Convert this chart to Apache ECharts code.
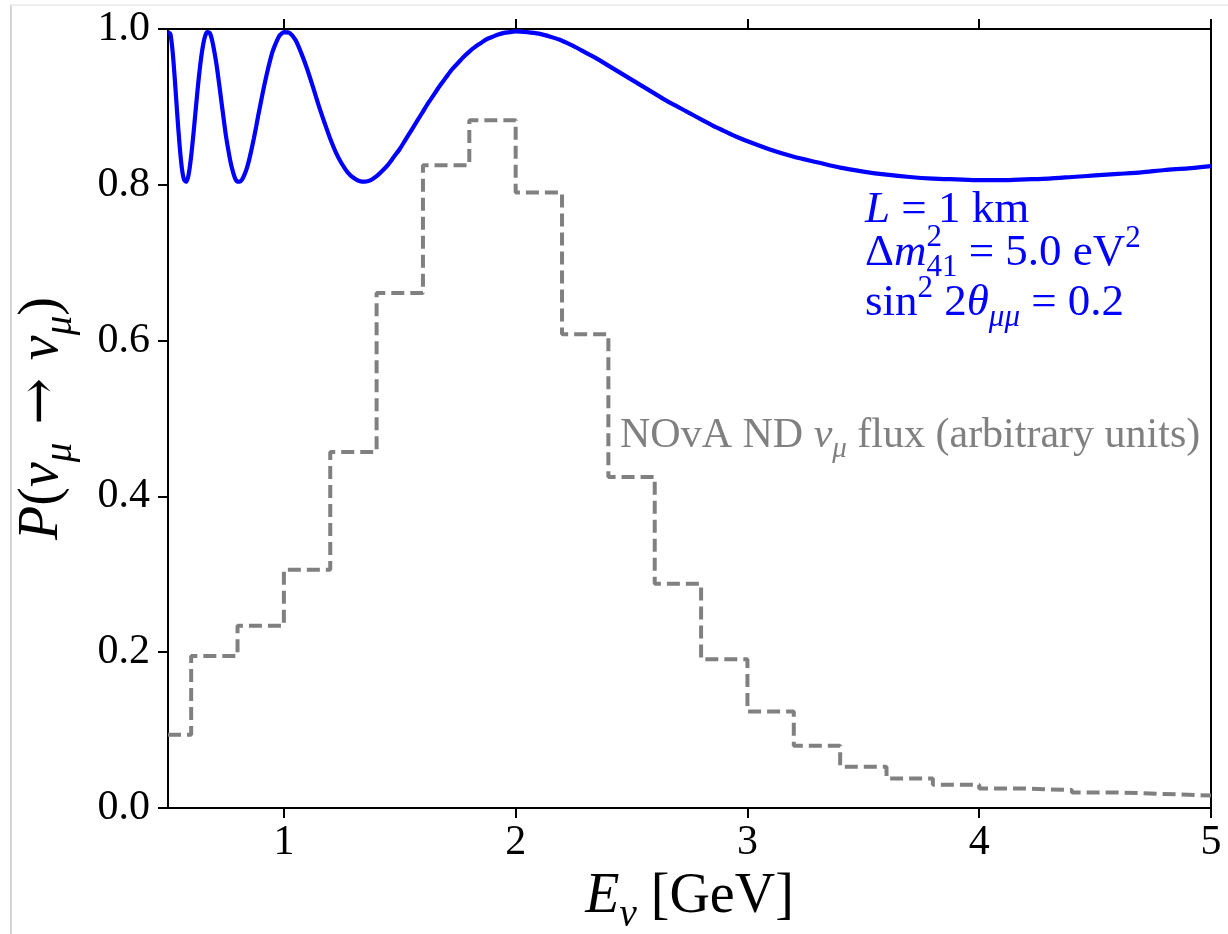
<!DOCTYPE html>
<html>
<head>
<meta charset="utf-8">
<script src="https://cdn.jsdelivr.net/npm/echarts@6.0.0/dist/echarts.min.js"></script>
<style>
  html, body { margin: 0; padding: 0; background: #ffffff; }
  #chart { width: 1228px; height: 934px; }
</style>
</head>
<body>
<div id="chart"></div>
<script>
// ---------------- data ----------------
// survival probability curve (E in GeV, P)
const probEnergy = [
  0.50,0.51,0.52,0.53,0.54,0.55,0.56,0.57,0.58,0.59,
  0.60,0.61,0.62,0.63,0.64,0.65,0.66,0.67,0.68,0.69,
  0.70,0.71,0.72,0.73,0.74,0.75,0.76,0.77,0.78,0.79,
  0.80,0.81,0.82,0.83,0.84,0.85,0.86,0.87,0.88,0.89,
  0.90,0.91,0.92,0.93,0.94,0.95,0.96,0.97,0.98,0.99,
  1.00,1.025,1.05,1.075,1.10,1.125,1.15,1.175,1.20,1.225,
  1.25,1.275,1.30,1.325,1.35,1.375,1.40,1.425,1.45,1.475,
  1.50,1.525,1.55,1.575,1.60,1.625,1.65,1.675,1.70,1.725,
  1.75,1.775,1.80,1.825,1.85,1.875,1.90,1.925,1.95,1.975,
  2.00,2.05,2.10,2.15,2.20,2.25,2.30,2.35,2.40,2.45,
  2.50,2.55,2.60,2.65,2.70,2.75,2.80,2.85,2.90,2.95,
  3.00,3.10,3.20,3.30,3.40,3.50,3.60,3.70,3.80,3.90,
  4.00,4.10,4.20,4.30,4.40,4.50,4.60,4.70,4.80,4.90,
  5.00
];
const probValue = [
  0.996,0.994,0.971,0.933,0.890,0.851,0.821,0.806,0.804,0.815,
  0.837,0.866,0.898,0.929,0.956,0.977,0.991,0.996,0.995,0.986,
  0.971,0.953,0.931,0.908,0.885,0.863,0.845,0.829,0.817,0.808,
  0.804,0.804,0.807,0.813,0.821,0.832,0.845,0.859,0.874,0.890,
  0.905,0.920,0.934,0.947,0.959,0.970,0.978,0.985,0.991,0.994,
  0.996,0.995,0.986,0.969,0.949,0.926,0.902,0.880,0.859,0.841,
  0.827,0.816,0.809,0.805,0.804,0.806,0.811,0.818,0.826,0.836,
  0.846,0.858,0.870,0.882,0.894,0.906,0.917,0.928,0.938,0.948,
  0.956,0.964,0.971,0.977,0.982,0.987,0.990,0.993,0.995,0.996,
  0.997,0.996,0.994,0.990,0.985,0.978,0.970,0.962,0.953,0.944,
  0.935,0.926,0.917,0.908,0.900,0.892,0.884,0.876,0.869,0.862,
  0.856,0.845,0.836,0.829,0.822,0.817,0.813,0.810,0.808,0.807,
  0.806,0.806,0.807,0.808,0.810,0.812,0.814,0.816,0.819,0.821,
  0.824
];
// flux histogram: bin edges (GeV) and bin heights (arbitrary units)
const fluxEdges = [0.5,0.6,0.8,1.0,1.2,1.4,1.6,1.8,2.0,2.2,2.4,2.6,2.8,3.0,3.2,3.4,3.6,3.8,4.0,4.2,4.4,4.6,4.8,5.0];
const fluxValues = [0.094,0.195,0.234,0.306,0.457,0.661,0.825,0.883,0.790,0.608,0.425,0.288,0.191,0.124,0.080,0.053,0.038,0.030,0.025,0.023,0.020,0.018,0.016];
// ticks
const xTicks = [1, 2, 3, 4, 5];
const yTicks = [0.0, 0.2, 0.4, 0.6, 0.8, 1.0];

// ---------------- chart ----------------
const serif = '"Liberation Serif", "DejaVu Serif", serif';
const arrowFont = '"DejaVu Serif", "Liberation Serif", serif';
const BLUE = '#0000ff';
const GRAY = '#808080';

function richSet(color, size, lh, subSize) {
  const base = { fontFamily: serif, fontSize: size, lineHeight: lh, verticalAlign: 'middle', color: color, fill: color };
  return {
    n: Object.assign({}, base),
    i: Object.assign({}, base, { fontStyle: 'italic' }),
    ar: Object.assign({}, base, { fontFamily: arrowFont }),
    sub: { fontFamily: serif, fontSize: subSize, lineHeight: subSize, verticalAlign: 'bottom', color: color, fill: color },
    subi: { fontFamily: serif, fontSize: subSize, lineHeight: subSize, verticalAlign: 'bottom', fontStyle: 'italic', color: color, fill: color },
    sup: { fontFamily: serif, fontSize: subSize, lineHeight: subSize, verticalAlign: 'top', color: color, fill: color }
  };
}

const probData = probEnergy.map((e, i) => [e, probValue[i]]);
const fluxData = fluxEdges.map((e, i) => [e, fluxValues[Math.min(i, fluxValues.length - 1)]]);

const axisLineStyle = { color: '#000', width: 2 };
const tickStyle = { color: '#000', width: 2 };
const chart = echarts.init(document.getElementById('chart'), null, { renderer: 'canvas' });

const axisRich = richSet('#000', 56, 76, 39);

const option = {
  backgroundColor: '#ffffff',
  animation: false,
  grid: { left: 168, right: 17, top: 29, bottom: 126, containLabel: false, outerBoundsMode: 'none' },
  xAxis: [
    {
      type: 'value', position: 'bottom', min: 0.5, max: 5,
      axisLine: { show: true, onZero: false, lineStyle: axisLineStyle },
      axisTick: { show: true, inside: false, length: 10, lineStyle: tickStyle, customValues: xTicks },
      axisLabel: { show: true, customValues: xTicks, margin: 14, fontFamily: serif, fontSize: 42, color: '#000',
                   formatter: v => String(v) },
      splitLine: { show: false },
      name: '{i|E}{subi|ν}{n| [GeV]}',
      nameLocation: 'middle', nameGap: 34,
      nameTextStyle: { rich: axisRich }
    },
    {
      type: 'value', position: 'top', min: 0.5, max: 5,
      axisLine: { show: true, onZero: false, lineStyle: axisLineStyle },
      axisTick: { show: true, inside: false, length: 10, lineStyle: tickStyle, customValues: xTicks },
      axisLabel: { show: false },
      splitLine: { show: false }
    }
  ],
  yAxis: [
    {
      type: 'value', position: 'left', min: 0, max: 1, interval: 0.2,
      axisLine: { show: true, onZero: false, lineStyle: axisLineStyle },
      axisTick: { show: true, inside: false, length: 10, lineStyle: tickStyle, customValues: yTicks },
      axisLabel: { show: true, customValues: yTicks, margin: 18, fontFamily: serif, fontSize: 42, color: '#000',
                   formatter: v => Number(v).toFixed(1) },
      splitLine: { show: false },
      name: '{i|P}{n|(}{i|ν}{subi|μ}{ar| → }{i|ν}{subi|μ}{n|)}',
      nameLocation: 'middle', nameGap: 88, nameRotate: 90,
      nameTextStyle: { rich: axisRich }
    },
    {
      type: 'value', position: 'right', min: 0, max: 1,
      axisLine: { show: true, onZero: false, lineStyle: axisLineStyle },
      axisTick: { show: false }, axisLabel: { show: false }, splitLine: { show: false }
    }
  ],
  series: [
    {
      name: 'flux', type: 'line', xAxisIndex: 0, yAxisIndex: 0,
      data: fluxData, step: 'end', showSymbol: false, symbol: 'none',
      lineStyle: { color: GRAY, width: 4, type: [13, 6] },
      z: 2, silent: true
    },
    {
      name: 'prob', type: 'line', xAxisIndex: 0, yAxisIndex: 0,
      data: probData, smooth: 0.25, showSymbol: false, symbol: 'none',
      lineStyle: { color: BLUE, width: 4.2 },
      z: 3, silent: true
    }
  ]
};
chart.setOption(option);

// ---------------- text annotations ----------------
function measure(txt, size, italic) {
  const c = document.createElement('canvas').getContext('2d');
  c.font = (italic ? 'italic ' : '') + size + 'px ' + serif;
  return c.measureText(txt).width;
}
const annRich = richSet(BLUE, 45, 60, 31);
const fluxRich = richSet(GRAY, 42, 56, 29);
const annX = 865;
const mSupX = annX + measure('Δ', 45, false) + measure('m', 45, true);

chart.setOption({
  graphic: [
    { type: 'line', shape: { x1: 11, y1: 5, x2: 11, y2: 934 }, style: { stroke: '#c8c8c8', lineWidth: 1.5 }, silent: true },
    { type: 'line', shape: { x1: 11, y1: 5, x2: 1228, y2: 5 }, style: { stroke: '#e8e8e8', lineWidth: 1.5 }, silent: true },
    { type: 'text', x: annX, y: 210, z: 10, silent: true,
      style: { text: '{i|L}{n| = 1 km}', rich: annRich, align: 'left', verticalAlign: 'middle', fill: BLUE } },
    { type: 'text', x: annX, y: 253, z: 10, silent: true,
      style: { text: '{n|Δ}{i|m}{sub|41}{n| = 5.0 eV}{sup|2}', rich: annRich, align: 'left', verticalAlign: 'middle', fill: BLUE } },
    { type: 'text', x: mSupX, y: 238, z: 10, silent: true,
      style: { text: '2', fontFamily: serif, fontSize: 31, align: 'left', verticalAlign: 'middle', fill: BLUE } },
    { type: 'text', x: annX, y: 303, z: 10, silent: true,
      style: { text: '{n|sin}{sup|2}{n| 2}{i|θ}{subi|μμ}{n| = 0.2}', rich: annRich, align: 'left', verticalAlign: 'middle', fill: BLUE } },
    { type: 'text', x: 620, y: 436, z: 10, silent: true,
      style: { text: '{n|NOvA ND }{i|ν}{subi|μ}{n| flux (arbitrary units)}', rich: fluxRich, align: 'left', verticalAlign: 'middle', fill: GRAY } }
  ]
});
</script>
</body>
</html>
